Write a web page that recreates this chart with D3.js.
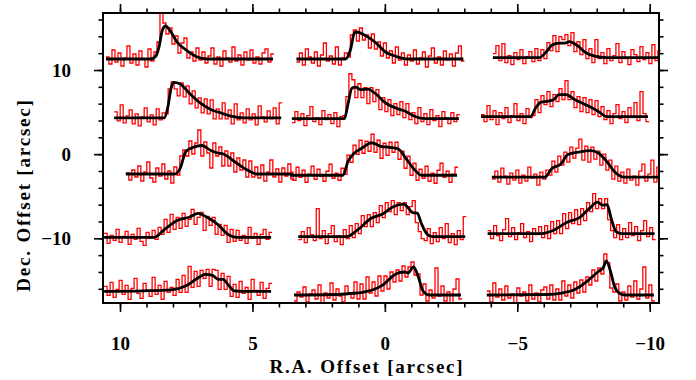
<!DOCTYPE html>
<html>
<head>
<meta charset="utf-8">
<script src="https://cdn.jsdelivr.net/npm/d3@7"></script>
<style>
  body { margin: 0; background: #fff; }
  text { font-family: "Liberation Serif", serif; font-weight: bold; }
</style>
</head>
<body>
<svg id="chart" width="696" height="380"></svg>
<script>
// Axis ticks (arcsec).
var raMajor = [10, 5, 0, -5, -10];
var raMinor = d3.range(-10, 11, 1);
var decMajor = [-10, 0, 10];
var decMinor = d3.range(-16, 17, 2);

// Left-edge R.A. offset and baseline Dec. offset of each small spectrum, row by row.
var panelRA  = [10.53, 3.34, -4.08,  10.22, 3.51, -3.63,  9.78, 3.58, -4.04,
                10.60, 3.27, -3.88,  10.60, 3.43, -3.85];
var panelDec = [11.31, 11.31, 11.46,  4.30, 4.21, 4.45,  -2.36, -2.51, -2.72,
                -9.88, -9.81, -9.45,  -16.30, -16.74, -16.74];

// Spectra: channel offset units per arcsec on the map, intensity units per arcsec.
var chanPerArcsec = 26.485;
var intPerArcsec = 8.415;
var chanStep = 3;

// Fitted model profiles: [channel offset, intensity].
var modelFits = [
  [[0,0],[45,0],[50,3],[53,12],[56.5,29],[59.5,33],[65,27],[71,17],[80,9],[90,2.5],[101,0],[167,0]],
  [[0,0],[49,0],[54,9],[58,26],[60,27],[68,24],[78.5,17],[89,7],[100,2.5],[111,0],[167,0]],
  [[0,0],[46,0],[53.5,6],[59,12.5],[66,14.5],[71,14.5],[76.5,16],[84,12.5],[93,5],[102,1.5],[114,0],[167,0]],
  [[0,0],[50,0],[53.5,10],[57,30],[59.5,35.5],[66,34],[75,25],[86,15],[96.5,8.5],[107,5],[118,1.5],[129,0],[167,0]],
  [[0,0],[52.5,0],[56,14],[60,30.5],[63.5,31.5],[69,29],[76,29.5],[83,25.5],[94,15.5],[104.5,10.5],[113.5,7.5],[122.5,2.5],[133,0],[167,0]],
  [[0,0],[49.5,0],[54.5,8.5],[60,14.5],[67,15.5],[72.5,17],[78,22],[85,22],[94,17],[104.5,12],[117,5.5],[126,0],[167,0]],
  [[0,0],[49,0],[54.5,6],[60,22.5],[67,26.5],[76,28.5],[85,23.5],[92,21],[97.5,20],[108.5,12.5],[120.5,4.5],[131,0],[167,0]],
  [[0,0],[53,0],[58,14],[63.5,21.5],[72.5,27.5],[81.5,32.5],[90.5,29],[99.5,28],[108,26.5],[115.5,17.5],[124.5,5.5],[131.5,0],[167,0]],
  [[0,0],[53,0],[60,8.5],[69,13],[76,22.5],[87,25],[99,26.5],[106.5,24],[115,15.5],[122.5,5.5],[131.5,0],[167,0]],
  [[0,0],[50,0],[60,7.5],[74.5,17.5],[85,20],[94,24],[103,20],[114,12.5],[124.5,2.5],[132,0],[167,0]],
  [[0,0],[48,0],[59,6.5],[73,18.5],[84,22.5],[95,30],[105.5,32.5],[109,30],[114.5,24],[119,23.5],[123,13.5],[128.5,3],[134,0],[167,0]],
  [[0,0],[52,0],[66,3.5],[80.5,12],[91,15.5],[102,25.5],[110,31.5],[115,28.5],[119.5,29],[123.5,15.5],[128.5,2],[134,0],[167,0]],
  [[0,0],[40,0.5],[67,1.5],[82,5.5],[92.5,12.5],[101.5,17],[108.5,16],[114,12],[119,12],[124.5,6],[130,0.5],[140,0],[167,0]],
  [[0,0],[40,0.5],[56,1.5],[70,3],[81,6],[90,11],[99,19],[105,22.5],[111,23],[114,22],[119.5,28],[124,19],[129,4],[135,0],[167,0]],
  [[0,0],[60,0.5],[75,2],[88,5.5],[100.5,14],[111,23],[116.5,27.5],[119.5,34],[124,22.5],[127.5,9],[133,1.5],[138,0],[167,0]]
];

// Observed spectra, one intensity per channel.
var observed = [
  [2,-5,9,-3,6,-7,1,13,-4,5,-6,8,0,-8,10,-2,7,17,46,36,25,31,15,23,6,16,21,1,7,-2,11,-1,7,-4,3,11,-5,2,-7,8,1,-3,12,-2,4,-6,7,-1,9,-4,2,-5,6,10,-3,5],
  [-3,6,-6,10,2,-4,7,-7,4,16,-2,3,-5,12,-6,1,6,2,24,29,18,31,19,24,11,25,10,17,3,16,1,8,-4,12,-1,6,-6,4,-2,9,-5,1,7,-8,3,11,-4,2,-6,8,-1,5,-7,6,13,-2],
  [4,12,-3,14,-5,2,-7,5,-2,8,-6,1,6,-4,9,-3,8,-1,15,7,22,6,21,18,23,12,25,6,16,3,18,-1,9,-5,18,-1,5,-6,9,-3,2,14,-5,6,-1,-7,8,3,-4,11,-2,5,-6,13,-3,7],
  [6,-3,13,-5,2,8,-6,4,-8,1,10,-4,3,-7,9,-2,5,4,29,36,29,22,35,21,32,14,27,10,20,5,19,4,18,-1,9,-1,15,-1,8,-6,14,-2,5,-5,9,-2,4,-7,12,1,-4,7,-1,10,-6,15],
  [-4,7,-2,5,-7,3,12,-3,1,-6,8,-1,4,-5,6,-8,2,3,22,45,39,21,35,21,31,15,31,17,29,9,21,7,19,3,15,4,17,1,15,-1,6,-5,11,-3,5,-6,9,-2,3,-8,7,1,-5,6,-3,4],
  [2,-5,11,-3,6,-8,4,-2,9,-6,1,13,-4,3,-7,8,-1,1,17,4,21,12,25,10,22,15,28,17,36,17,25,9,20,5,19,4,17,2,16,0,10,-3,6,-7,3,12,-2,5,-6,9,-1,14,-4,25,3,-5],
  [1,-6,4,-3,8,-7,2,12,-4,-8,6,-2,10,-5,3,-9,7,-1,18,24,18,33,20,31,44,18,32,21,6,31,18,27,8,23,8,21,2,16,4,14,-3,13,-3,7,-4,9,-7,2,14,-3,5,-8,6,-2,10,-5],
  [3,-5,8,-2,5,-7,1,9,-4,6,-1,-6,4,11,-3,2,-5,7,1,20,13,30,21,35,22,34,24,41,23,35,17,32,20,33,23,33,16,24,7,19,0,12,-5,6,-3,9,-6,2,-8,5,12,-2,4,-7,1,8],
  [-2,6,-5,9,1,-7,4,-3,7,-6,2,-4,10,-1,3,-8,5,-2,7,2,16,5,21,12,25,15,30,19,29,38,17,31,15,30,18,26,12,23,7,17,-2,11,-4,5,-6,8,-3,1,-8,6,13,-4,3,17,-5,10],
  [4,-6,2,-3,8,-5,1,6,-7,3,-2,9,-4,-8,5,-1,7,-2,10,3,18,5,23,8,20,9,24,11,18,28,13,20,25,7,21,12,20,3,13,2,12,-5,8,-4,7,-3,2,-6,10,-1,4,-7,3,8,-2,5],
  [-3,5,-6,9,2,-4,28,-2,6,-7,3,11,-5,1,-8,7,-2,11,-1,13,3,21,10,22,10,24,14,31,19,34,25,36,22,34,26,34,22,30,36,14,5,-2,-4,8,-7,4,-5,9,-2,13,-6,3,-8,6,-3,20],
  [3,-5,8,-2,-7,4,15,-3,6,-6,1,10,-4,2,-8,5,-1,7,-4,8,-5,12,0,13,0,20,5,21,10,24,9,25,13,31,22,40,25,35,25,35,14,3,-4,9,-6,5,-4,11,-2,7,-7,3,13,-3,6,-6],
  [5,-4,9,-6,2,11,-3,6,-8,3,13,-2,-7,8,1,-5,14,-3,6,-8,10,-1,4,-4,12,-1,16,-1,25,4,20,5,21,13,22,5,22,21,2,18,2,15,-5,7,-6,10,-2,4,-8,12,1,-4,9,-7,3,8],
  [-6,3,-2,8,-7,1,5,-4,10,-8,2,-3,12,-5,6,-1,-7,9,2,-3,13,-4,11,-4,18,2,13,-1,19,4,19,6,23,13,25,14,29,18,28,33,20,21,0,11,-6,5,-3,27,-1,9,-6,3,-8,6,16,-4],
  [4,-7,12,-2,6,-5,9,-3,1,-8,7,-1,3,-6,10,-4,2,-7,5,8,-4,10,-5,6,-5,14,-1,10,-3,13,2,15,3,18,10,25,14,27,21,41,32,7,3,11,-6,3,-5,9,-2,14,-4,6,28,-3,10,-6]
];

var svg = d3.select('#chart');
var box = {left: 103, right: 659, top: 13, bottom: 303};

var x = d3.scaleLinear().domain([10.642, -10.351]).range([box.left, box.right]);
var y = d3.scaleLinear().domain([16.774, -17.689]).range([box.top, box.bottom]);

var stepLine = d3.line().curve(d3.curveStepAfter);
var smoothLine = d3.line().curve(d3.curveMonotoneX);

// Draw each spectrum at its map position.
panelRA.forEach(function(ra0, p){
  var dec0 = panelDec[p];
  var toPoint = function(u, h){
    return [x(ra0 - u / chanPerArcsec), y(dec0 + h / intPerArcsec)];
  };

  var obs = observed[p];
  var pts = obs.map(function(v, i){ return toPoint(i * chanStep, v); });
  pts.push(toPoint(obs.length * chanStep, obs[obs.length - 1]));
  svg.append('path')
     .attr('d', stepLine(pts))
     .attr('fill', 'none')
     .attr('stroke', '#ff0000')
     .attr('stroke-width', 1.3);

  svg.append('path')
     .attr('d', smoothLine(modelFits[p].map(function(d){ return toPoint(d[0], d[1]); })))
     .attr('fill', 'none')
     .attr('stroke', '#000')
     .attr('stroke-width', 2.8)
     .attr('stroke-linejoin', 'round');
});

// Ticks on all four sides, pointing outwards.
var addTicks = function(axis, values, size, transform, labels, pad){
  var g = svg.append('g')
    .attr('transform', transform)
    .call(axis.tickValues(values).tickSize(size).tickSizeOuter(0)
              .tickPadding(pad || 3)
              .tickFormat(labels ? d3.format('') : ''));
  g.select('.domain').remove();
  g.selectAll('line').attr('stroke', '#000').attr('stroke-width', 1.6);
  g.selectAll('text').attr('font-size', 19).attr('fill', '#000')
   .style('font-family', '"Liberation Serif", serif').style('font-weight', 'bold');
  return g;
};
addTicks(d3.axisBottom(x), raMinor, 4.5, 'translate(0,' + box.bottom + ')');
addTicks(d3.axisBottom(x), raMajor, 9, 'translate(0,' + box.bottom + ')', true, 25);
addTicks(d3.axisTop(x), raMinor, 4.5, 'translate(0,' + box.top + ')');
addTicks(d3.axisTop(x), raMajor, 9, 'translate(0,' + box.top + ')');
addTicks(d3.axisLeft(y), decMinor, 4.5, 'translate(' + box.left + ',0)');
addTicks(d3.axisLeft(y), decMajor, 9, 'translate(' + box.left + ',0)', true, 23);
addTicks(d3.axisRight(y), decMinor, 4.5, 'translate(' + box.right + ',0)');
addTicks(d3.axisRight(y), decMajor, 9, 'translate(' + box.right + ',0)');

// Frame.
svg.append('rect')
   .attr('x', box.left).attr('y', box.top)
   .attr('width', box.right - box.left).attr('height', box.bottom - box.top)
   .attr('fill', 'none').attr('stroke', '#000').attr('stroke-width', 2);

// Axis titles.
svg.append('text')
   .attr('x', 367).attr('y', 373)
   .attr('text-anchor', 'middle').attr('font-size', 19)
   .style('letter-spacing', '1.8px')
   .text('R.A. Offset [arcsec]');

svg.append('text')
   .attr('transform', 'translate(30,195) rotate(-90)')
   .attr('text-anchor', 'middle').attr('font-size', 19)
   .style('letter-spacing', '1.8px')
   .text('Dec. Offset [arcsec]');
</script>
</body>
</html>
